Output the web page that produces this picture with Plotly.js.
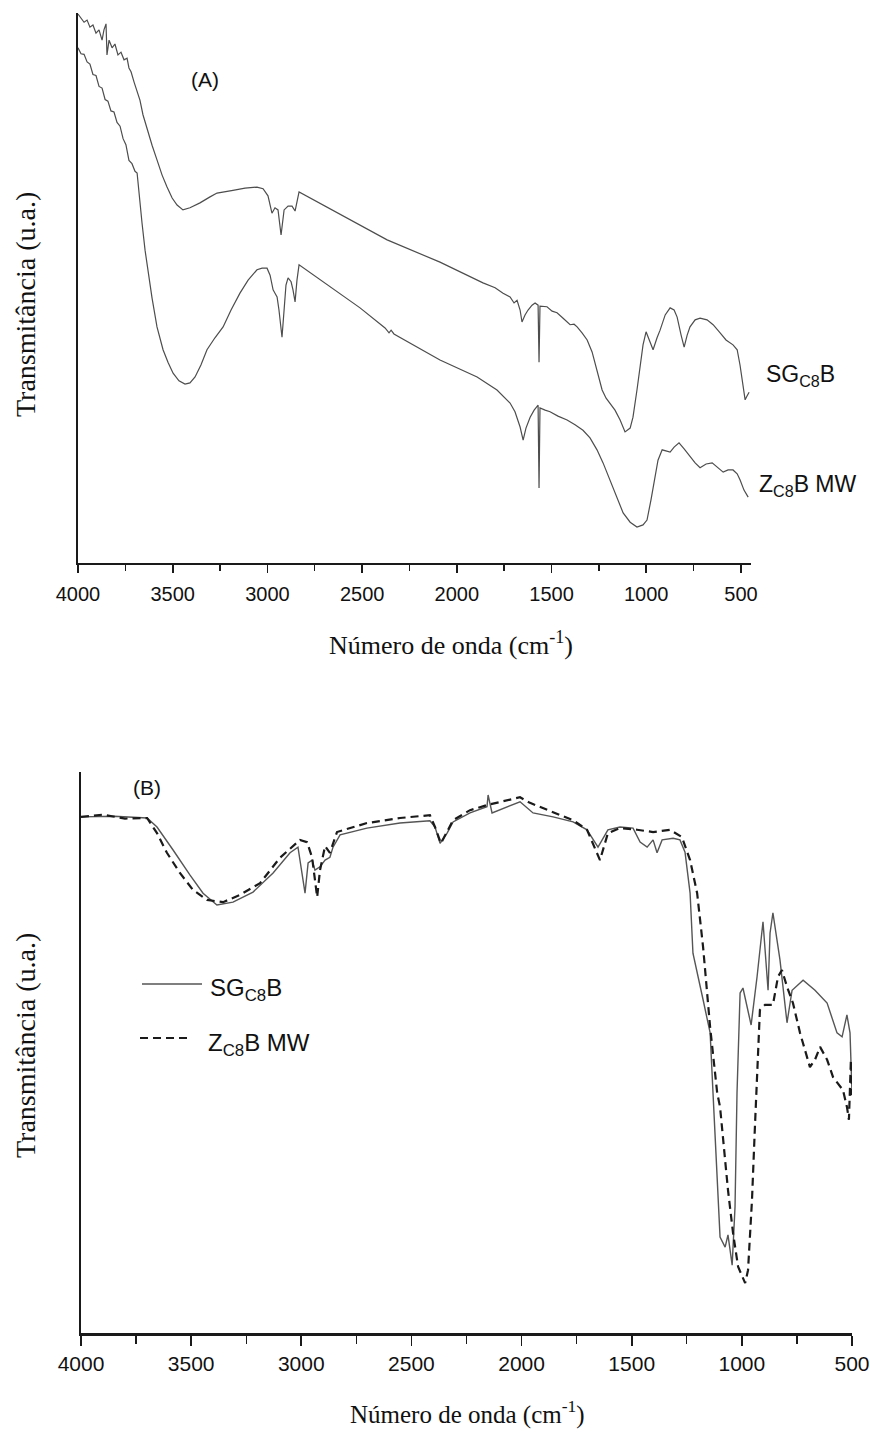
<!DOCTYPE html>
<html>
<head>
<meta charset="utf-8">
<script src="https://cdn.plot.ly/plotly-3.0.1.min.js"></script>
<style>html,body{margin:0;padding:0;background:#fff;}#chart{width:870px;height:1432px;}</style>
</head>
<body>
<div id="chart"></div>
<script>
// ---------- Panel (A) ----------
const a_sg_wn = [4000,3984,3968,3952,3937,3921,3905,3889,3873,3863,3852,3847,3836,3820,3805,3789,3773,3757,3741,3731,3720,3704,3688,3673,3657,3641,3625,3609,3583,3556,3530,3503,3477,3446,3409,3356,3303,3266,3182,3118,3055,3023,2997,2976,2960,2944,2928,2912,2891,2870,2854,2844,2833,2368,2089,1862,1798,1756,1719,1698,1682,1666,1656,1640,1624,1603,1587,1571,1566,1561,1540,1524,1497,1471,1439,1402,1381,1365,1339,1312,1286,1260,1233,1212,1191,1165,1138,1112,1085,1070,1049,1033,1017,1001,980,964,943,927,900,874,853,837,816,800,784,769,742,716,679,647,610,579,542,520,505,489,478,468,457];
const a_sg_t = [100.9,100.2,99.4,99.8,98.5,98.9,97.4,98.0,96.1,98.0,99.1,93.4,96.1,94.7,95.4,93.4,93.9,92.5,92.8,91.0,90.3,88.4,86.9,85.1,82.4,80.5,78.7,76.8,74.1,71.3,69.1,67.1,65.8,64.9,65.3,66.2,67.3,68.0,68.5,68.9,69.1,68.8,67.5,64.3,65.3,64.9,60.3,64.9,65.6,65.6,64.7,66.7,68.2,59.4,55.3,51.5,50.6,49.6,48.9,47.8,48.3,46.5,44.3,45.6,46.5,47.4,47.8,47.4,36.9,47.2,47.2,47.1,46.3,46.0,45.0,43.8,43.9,43.4,42.3,41.0,38.8,35.5,31.8,30.3,29.4,28.1,26.3,24.1,24.8,26.8,31.8,35.5,40.1,42.5,40.6,39.2,41.4,42.8,45.6,46.9,46.5,45.2,41.9,39.7,41.9,43.4,44.7,45.0,44.7,43.8,42.3,41.0,40.1,39.2,36.4,32.7,30.0,30.7,31.4];

const a_z_wn = [4000,3984,3968,3952,3937,3921,3905,3889,3873,3857,3842,3826,3810,3794,3778,3762,3747,3731,3715,3699,3688,3678,3662,3646,3630,3609,3583,3551,3525,3498,3467,3435,3409,3382,3351,3319,3277,3234,3192,3145,3102,3055,3028,3002,2986,2970,2960,2949,2939,2923,2912,2902,2891,2875,2865,2854,2844,2833,2511,2379,2358,2347,2332,2089,1893,1788,1719,1693,1666,1650,1635,1613,1592,1571,1566,1561,1534,1508,1466,1418,1376,1334,1297,1260,1228,1191,1154,1122,1085,1049,1017,996,975,954,938,916,895,874,853,827,800,769,742,716,684,652,621,594,568,542,520,505,484,462];
const a_z_t = [94.7,93.6,93.5,92.1,91.7,89.8,89.6,87.6,87.3,85.2,84.9,83.1,82.9,81.0,80.3,78.0,76.9,74.0,73.4,72.0,71.7,67.6,62.5,57.5,53.3,48.7,43.4,39.2,36.9,34.9,33.5,32.9,33.1,34.2,36.4,39.2,41.4,43.4,46.5,49.6,52.0,53.9,54.2,54.2,52.9,50.2,49.6,48.9,46.5,41.5,46.5,51.1,52.4,51.7,50.2,48.0,52.0,54.8,46.9,43.2,42.3,42.8,42.1,37.3,34.2,31.8,29.4,27.8,25.0,22.6,24.8,26.8,28.1,29.0,13.8,28.5,28.1,27.8,27.0,26.3,25.4,24.4,23.0,20.8,18.4,15.3,12.1,9.2,7.5,6.6,7.0,7.9,11.6,15.8,18.9,20.8,20.6,20.4,21.3,22.1,21.0,19.5,18.4,17.5,18.2,18.4,17.5,16.7,17.1,17.1,16.4,15.3,13.4,12.1];

// ---------- Panel (B) ----------
const b_sg_wn = [4000,3850,3700,3655,3582,3505,3446,3383,3310,3219,3128,3051,3015,2983,2969,2951,2938,2915,2892,2870,2856,2824,2702,2552,2416,2393,2370,2338,2311,2234,2157,2152,2134,2066,2007,1948,1857,1766,1703,1653,1608,1553,1494,1462,1430,1403,1385,1362,1312,1281,1258,1235,1222,1176,1144,1131,1099,1076,1063,1044,1031,1022,1008,995,958,931,904,881,872,859,827,795,772,722,668,613,568,545,523,509,500];
const b_sg_t = [92.0,92.1,91.8,90.2,86.1,81.6,78.4,76.3,76.8,78.6,82.0,85.6,86.6,78.4,83.8,84.3,82.5,83.1,84.3,84.8,86.6,88.8,90.0,90.9,91.3,90.2,87.3,89.1,91.1,92.7,93.8,95.9,92.7,93.8,94.7,92.7,92.0,91.1,89.7,86.6,89.7,90.2,90.0,87.5,86.6,87.9,85.6,87.9,88.2,87.9,85.7,78.4,67.7,59.4,53.5,42.8,17.1,15.3,17.5,12.1,22.5,42.8,60.6,61.5,54.9,63.5,73.3,61.1,71.3,74.9,66.5,55.3,61.1,62.9,61.1,58.8,53.5,52.8,56.7,53.5,42.8];

const b_z_wn = [4000,3900,3800,3700,3655,3610,3551,3492,3428,3355,3278,3187,3097,3006,2974,2951,2928,2915,2892,2870,2838,2702,2552,2416,2393,2366,2311,2234,2157,2007,1962,1857,1766,1703,1644,1608,1553,1476,1403,1326,1272,1235,1203,1176,1144,1112,1099,1063,1040,1017,985,972,954,940,918,895,859,836,818,795,768,736,691,668,645,613,586,541,523,514,505,500];
const b_z_t = [92.0,92.4,91.7,91.8,89.1,85.6,82.0,79.0,77.2,76.8,78.1,80.2,84.7,87.9,87.5,84.8,77.7,82.5,86.8,85.6,89.3,90.9,91.8,92.3,90.2,87.3,91.4,93.2,94.1,95.5,94.5,92.9,91.4,89.7,84.3,89.1,90.0,89.7,89.3,89.7,88.4,84.3,78.4,68.8,54.5,42.8,40.3,25.5,17.8,11.8,8.9,11.2,23.7,37.4,57.6,58.5,58.5,63.5,64.7,61.7,58.8,53.5,47.4,48.7,51.0,48.7,45.6,43.3,40.3,38.0,48.7,42.4];

const seriesNames = ['SG<sub>C8</sub>B', 'Z<sub>C8</sub>B MW'];
const xTitle = 'Número de onda (cm<sup>-1</sup>)';
const yTitle = 'Transmitância (u.a.)';

const W = 870, H = 1432;
const px = v => v / W;
const py = v => 1 - v / H;

const SANS = 'Liberation Sans, Arial, sans-serif';
const SERIF = 'Liberation Serif, Times New Roman, serif';

const traces = [
  {x: a_sg_wn, y: a_sg_t, name: seriesNames[0], xaxis: 'x', yaxis: 'y', mode: 'lines',
   line: {color: '#4d4d4d', width: 1.2}, showlegend: false},
  {x: a_z_wn, y: a_z_t, name: seriesNames[1], xaxis: 'x', yaxis: 'y', mode: 'lines',
   line: {color: '#4d4d4d', width: 1.2}, showlegend: false},
  {x: b_sg_wn, y: b_sg_t, name: seriesNames[0], xaxis: 'x2', yaxis: 'y2', mode: 'lines',
   line: {color: '#555555', width: 1.4}, showlegend: false},
  {x: b_z_wn, y: b_z_t, name: seriesNames[1], xaxis: 'x2', yaxis: 'y2', mode: 'lines',
   line: {color: '#1a1a1a', width: 2.2, dash: '8px,5px'}, showlegend: false}
];

function xax(domain, range, anchor, fs, lw, tl, stand) {
  return {
    domain: domain, range: range, anchor: anchor, showgrid: false, zeroline: false,
    showline: true, linecolor: '#1a1a1a', linewidth: lw,
    ticks: 'outside', ticklen: tl, tickwidth: 1.6, tickcolor: '#1a1a1a',
    tick0: 0, dtick: 500, ticklabelstandoff: stand,
    tickfont: {family: SANS, size: fs, color: '#111'},
    minor: {dtick: 250, ticks: 'outside', ticklen: tl - 2, tickwidth: 1.4, tickcolor: '#1a1a1a', showgrid: false}
  };
}
function yax(domain, range, anchor) {
  return {
    domain: domain, range: range, anchor: anchor, showgrid: false, zeroline: false,
    showline: true, linecolor: '#1a1a1a', linewidth: 2, ticks: '', showticklabels: false
  };
}

const layout = {
  width: W, height: H, margin: {l: 0, r: 0, t: 0, b: 0},
  paper_bgcolor: '#ffffff', plot_bgcolor: 'rgba(0,0,0,0)',
  xaxis: xax([px(78), px(751)], [4000, 447], 'y', 20, 2, 8, 4),
  yaxis: yax([1 - 563 / H, 1 - 13 / H], [0, 101.1], 'x'),
  xaxis2: xax([px(81), px(852)], [4000, 500], 'y2', 21, 3, 10, 0),
  yaxis2: yax([1 - 1333 / H, 1 - 772 / H], [0, 100], 'x2'),
  shapes: [
    {type: 'line', xref: 'paper', yref: 'paper', x0: px(142), x1: px(202), y0: py(984), y1: py(984),
     line: {color: '#555555', width: 1.5}},
    {type: 'line', xref: 'paper', yref: 'paper', x0: px(140), x1: px(190), y0: py(1038), y1: py(1038),
     line: {color: '#1a1a1a', width: 2.2, dash: '8px,5px'}}
  ],
  annotations: [
    {text: '(A)', xref: 'paper', yref: 'paper', x: px(205), y: py(79), xanchor: 'center', yanchor: 'middle',
     showarrow: false, font: {family: SANS, size: 21, color: '#111'}},
    {text: '(B)', xref: 'paper', yref: 'paper', x: px(147), y: py(787), xanchor: 'center', yanchor: 'middle',
     showarrow: false, font: {family: SANS, size: 21, color: '#111'}},
    {text: seriesNames[0], xref: 'paper', yref: 'paper', x: px(764), y: py(375), xanchor: 'left', yanchor: 'middle',
     showarrow: false, font: {family: SANS, size: 23, color: '#111'}},
    {text: seriesNames[1], xref: 'paper', yref: 'paper', x: px(757), y: py(485), xanchor: 'left', yanchor: 'middle',
     showarrow: false, font: {family: SANS, size: 23, color: '#111'}},
    {text: seriesNames[0], xref: 'paper', yref: 'paper', x: px(208), y: py(989), xanchor: 'left', yanchor: 'middle',
     showarrow: false, font: {family: SANS, size: 24, color: '#111'}},
    {text: seriesNames[1], xref: 'paper', yref: 'paper', x: px(206), y: py(1044), xanchor: 'left', yanchor: 'middle',
     showarrow: false, font: {family: SERIF === '' ? SANS : SANS, size: 24, color: '#111'}},
    {text: xTitle, xref: 'paper', yref: 'paper', x: px(451), y: py(643), xanchor: 'center', yanchor: 'middle',
     showarrow: false, font: {family: SERIF, size: 26, color: '#111'}},
    {text: xTitle, xref: 'paper', yref: 'paper', x: px(467), y: py(1412), xanchor: 'center', yanchor: 'middle',
     showarrow: false, font: {family: SERIF, size: 25, color: '#111'}},
    {text: yTitle, xref: 'paper', yref: 'paper', x: px(25), y: py(305), xanchor: 'center', yanchor: 'middle',
     textangle: -90, showarrow: false, font: {family: SERIF, size: 28, color: '#111'}},
    {text: yTitle, xref: 'paper', yref: 'paper', x: px(25), y: py(1046), xanchor: 'center', yanchor: 'middle',
     textangle: -90, showarrow: false, font: {family: SERIF, size: 28, color: '#111'}}
  ]
};

Plotly.newPlot('chart', traces, layout, {staticPlot: true, displayModeBar: false});
</script>
</body>
</html>
